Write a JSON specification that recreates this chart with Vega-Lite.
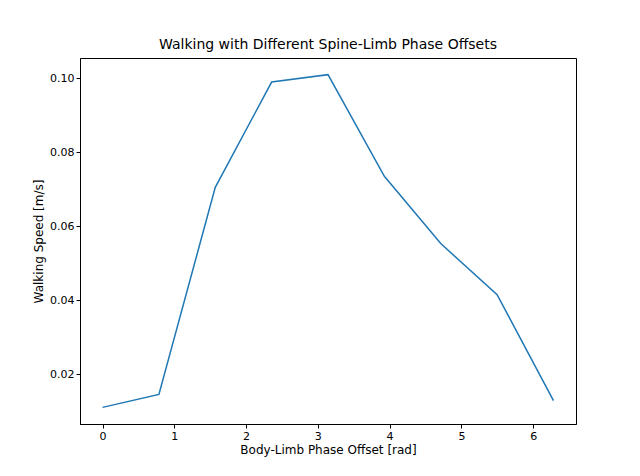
{
  "$schema": "https://vega.github.io/schema/vega-lite/v6.json",
  "width": 496,
  "height": 366,
  "autosize": {"type": "none"},
  "padding": {"left": 80, "top": 58, "right": 64, "bottom": 52},
  "background": "white",
  "title": {"text": "Walking with Different Spine-Limb Phase Offsets", "font": "DejaVu Sans", "fontSize": 14, "fontWeight": "normal", "offset": 6, "color": "black"},
  "config": {
    "view": {"stroke": "black", "strokeWidth": 1},
    "axis": {"labelFont": "DejaVu Sans", "titleFont": "DejaVu Sans", "labelFontSize": 11, "titleFontSize": 12, "titleFontWeight": "normal", "labelColor": "black", "titleColor": "black", "tickColor": "black", "domainColor": "black", "grid": false, "tickSize": 4}
  },
  "data": {"values": [
    {"offset": 0, "speed": 0.011},
    {"offset": 0.7854, "speed": 0.0145},
    {"offset": 1.5708, "speed": 0.0705},
    {"offset": 2.3562, "speed": 0.099},
    {"offset": 3.1416, "speed": 0.101},
    {"offset": 3.927, "speed": 0.0735},
    {"offset": 4.7124, "speed": 0.0553},
    {"offset": 5.4978, "speed": 0.0415},
    {"offset": 6.2832, "speed": 0.0128}
  ]},
  "mark": {"type": "line", "color": "#1f77b4", "strokeWidth": 1.5},
  "encoding": {
    "x": {"field": "offset", "type": "quantitative", "title": "Body-Limb Phase Offset [rad]",
      "scale": {"domain": [-0.314, 6.597], "nice": false, "zero": false},
      "axis": {"values": [0, 1, 2, 3, 4, 5, 6], "format": "d", "titlePadding": 3}},
    "y": {"field": "speed", "type": "quantitative", "title": "Walking Speed [m/s]",
      "scale": {"domain": [0.0065, 0.1055], "nice": false, "zero": false},
      "axis": {"values": [0.02, 0.04, 0.06, 0.08, 0.1], "format": ".2f", "titlePadding": 4}}
  }
}
